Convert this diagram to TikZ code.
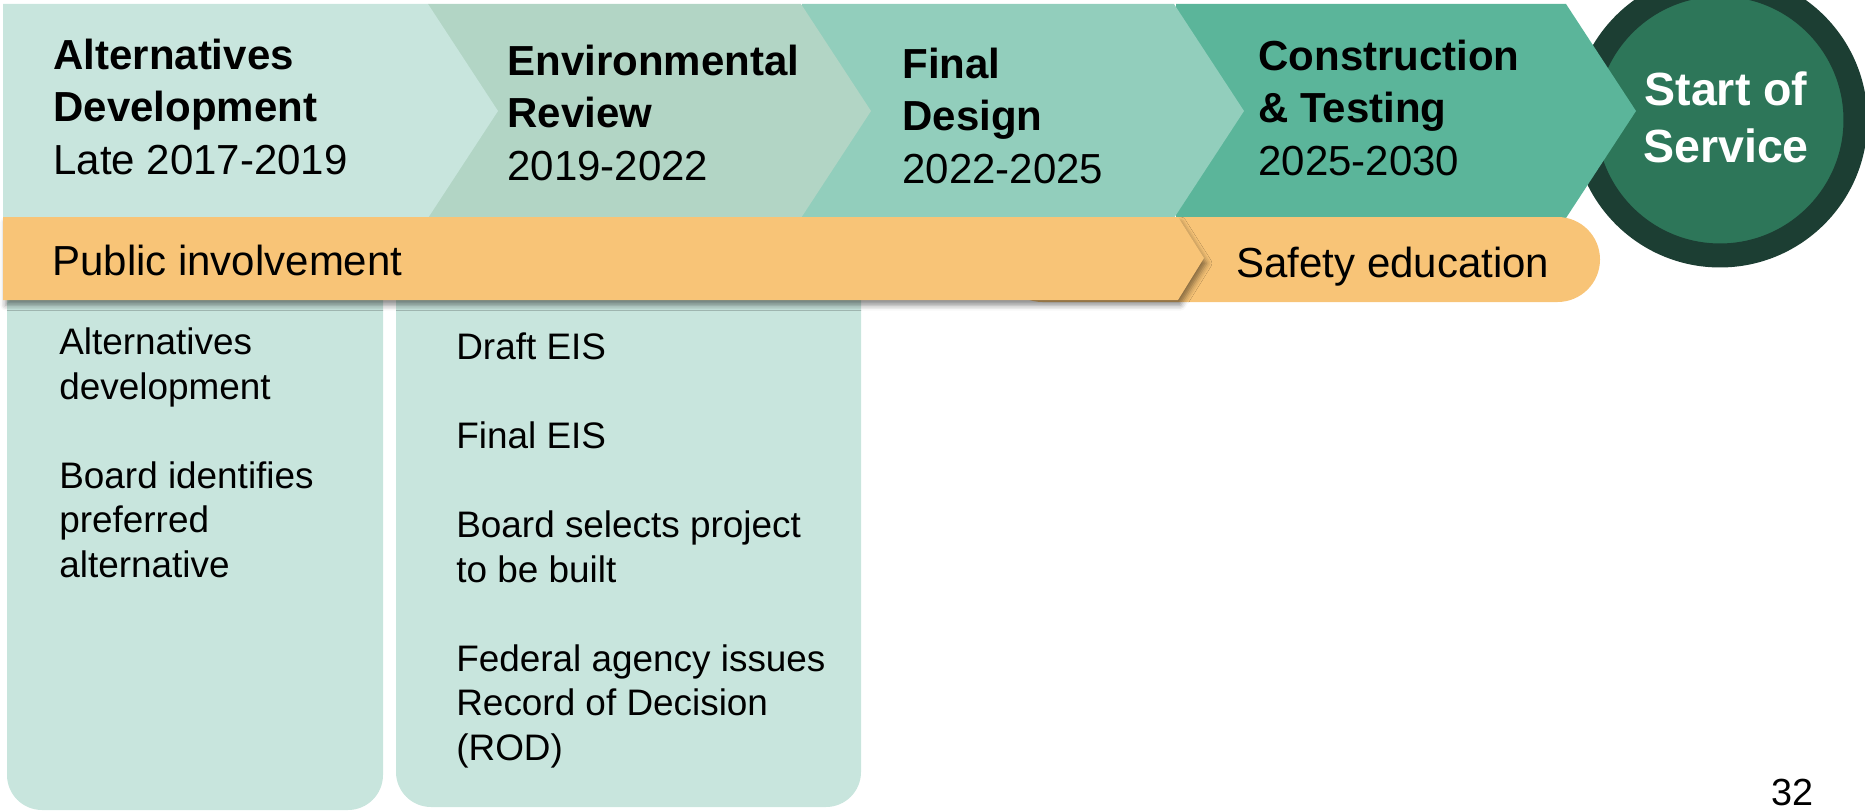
\documentclass[tikz,border=0pt]{standalone}
\usepackage{fontspec}
\setmainfont{Liberation Sans}
\usetikzlibrary{shadows.blur}

\definecolor{stageA}{RGB}{200,229,221}
\definecolor{stageB}{RGB}{178,213,197}
\definecolor{stageC}{RGB}{146,206,188}
\definecolor{stageD}{RGB}{91,181,154}
\definecolor{serviceIn}{RGB}{45,118,89}
\definecolor{serviceOut}{RGB}{28,62,51}
\definecolor{barOrange}{RGB}{248,196,119}

\begin{document}
\begin{tikzpicture}[
    x=0.02cm, y=-0.02cm,
    stagetext/.style={anchor=base west, inner sep=0pt, align=left, font=\fontsize{23.9}{29.6}\selectfont},
    bartext/.style={anchor=base west, inner sep=0pt, font=\fontsize{23.9}{28}\selectfont},
    listtext/.style={anchor=base west, inner sep=0pt, align=left, font=\fontsize{21}{25.3}\selectfont},
    listbox/.style={fill=stageA, rounded corners=0.7cm},
    barshadow/.style={blur shadow={shadow xshift=1.5pt, shadow yshift=-3pt, shadow blur radius=3pt, shadow opacity=45}}
]
    \useasboundingbox (0,0) rectangle (1865,811);

    % Start of service circle
    \node (service) [circle, fill=serviceIn, draw=serviceOut, line width=0.48cm, minimum size=5.42cm] at (1720,120) {};

    % Stage chevrons, last one first
    \foreach \xa/\xb/\col in {1176/1566/stageD, 802/1174/stageC, 428/801/stageB, 3/428/stageA}
        \fill[\col] (\xa,4) -- (\xb,4) -- (\xb+70,111) -- (\xb,218) -- (\xa,218) -- cycle;

    % Detail boxes
    \fill[listbox] (7,260) rectangle (383,810);
    \fill[listbox] (396,260) rectangle (861,807);

    % Orange bars
    \fill[barOrange, rounded corners=0.85cm] (1000,217) rectangle (1600,302);
    \fill[barOrange, barshadow] (3,217) -- (1178,217) -- (1204,258) -- (1178,300) -- (3,300) -- cycle;

    % Stage labels (anchored on the last line)
    \node (altlbl) [stagetext] at (53,174) {\textbf{Alternatives}\\\textbf{Development}\\Late 2017-2019};
    \node (envlbl) [stagetext] at (507,180) {\textbf{Environmental}\\\textbf{Review}\\2019-2022};
    \node (deslbl) [stagetext] at (902,183) {\textbf{Final}\\\textbf{Design}\\2022-2025};
    \node (conlbl) [stagetext] at (1258,175) {\textbf{Construction}\\\textbf{\& Testing}\\2025-2030};
    \node (servicelbl) [anchor=base, inner sep=0pt, align=center, text=white, font=\fontsize{26.5}{32.4}\selectfont\bfseries] at (1726,162) {Start of\\Service};

    % Bar labels
    \node (publbl) [bartext] at (52,275) {Public involvement};
    \node (safelbl) [bartext] at (1236,277) {Safety education};

    % Box lists
    \node (altlist) [listtext] at (59,577) {Alternatives\\development\\[25.3pt]Board identifies\\preferred\\alternative};
    \node (envlist) [listtext] at (456,760) {Draft EIS\\[25.3pt]Final EIS\\[25.3pt]Board selects project\\to be built\\[25.3pt]Federal agency issues\\Record of Decision\\(ROD)};

    \node (pagenum) [anchor=base, inner sep=0pt, font=\fontsize{21.5}{25}\selectfont] at (1792,805) {32};
\end{tikzpicture}
\end{document}
